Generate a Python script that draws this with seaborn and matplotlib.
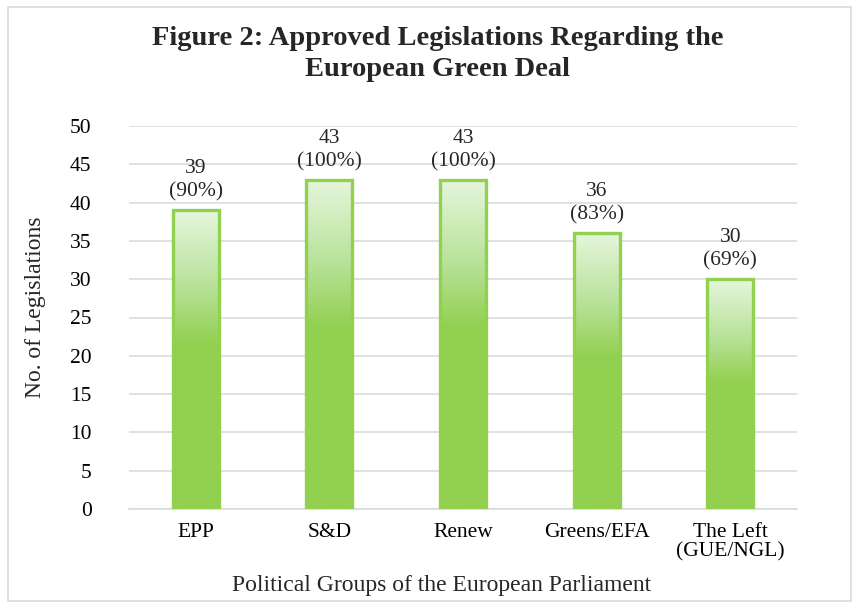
import numpy as np
import pandas as pd
import matplotlib
matplotlib.use("Agg")
import matplotlib.pyplot as plt
import seaborn as sns
from matplotlib.colors import LinearSegmentedColormap
from matplotlib.patches import Rectangle

groups = ["EPP", "S&D", "Renew", "Greens/EFA", "The Left\n(GUE/NGL)"]
approved = [39, 43, 43, 36, 30]
shares = ["90%", "100%", "100%", "83%", "69%"]

sns.set_theme(style="white")
plt.rcParams["font.family"] = ["Liberation Serif", "DejaVu Serif"]

df = pd.DataFrame({"group": groups, "n": approved})

fig = plt.figure(figsize=(8.58, 6.08), dpi=100)
ax = fig.add_axes([129/858, 1-509/608, (797-129)/858, (509-126)/608])

green = "#92D050"
sns.barplot(data=df, x="group", y="n", color=green, width=0.345, ax=ax,
            saturation=1, edgecolor=green, linewidth=2.4, zorder=3)

ax.set_ylim(0, 50)
ax.set_yticks(range(0, 51, 5))
ax.yaxis.grid(True, color="#D9D9D9", linewidth=1.1, zorder=0)
ax.set_axisbelow(True)
for s in ["top", "right", "left"]:
    ax.spines[s].set_visible(False)
ax.spines["bottom"].set_color("#D9D9D9")
ax.spines["bottom"].set_linewidth(1.1)
ax.tick_params(axis="both", length=0, labelsize=15.5, colors="black")
ax.tick_params(axis="y", pad=27)
ax.tick_params(axis="x", pad=10)
for lab in ax.get_xticklabels():
    lab.set_linespacing(1.0)

# gradient fill
t = np.linspace(0, 1, 256)
cmap = LinearSegmentedColormap.from_list(
    "g", [(0, green), (0.55, green), (0.75, "#B8E29A"), (1.0, "#E6F6DC")])
grad = t.reshape(-1, 1)
for p in list(ax.patches):
    x0, y0 = p.get_x(), p.get_y()
    w, h = p.get_width(), p.get_height()
    p.set_facecolor("none")
    im = ax.imshow(grad, cmap=cmap, origin="lower", aspect="auto",
                   extent=[x0, x0 + w, y0, y0 + h], zorder=2.5,
                   vmin=0, vmax=1)
    im.set_clip_path(p)
ax.set_xlim(-0.5, len(groups) - 0.5)
ax.set_ylim(0, 50)

for i, (v, s) in enumerate(zip(approved, shares)):
    ax.annotate(f"{v}\n({s})", (i, v), xytext=(0, 6), textcoords="offset points",
                ha="center", va="bottom", fontsize=15.5, linespacing=1.3)

ax.set_xlabel("Political Groups of the European Parliament", fontsize=17, va="center")
ax.xaxis.set_label_coords((442-129)/668, (509-585)/383)
ax.set_ylabel("No. of Legislations", fontsize=17, va="center")
ax.yaxis.set_label_coords((35-129)/668, (509-307)/383)

fig.text(0.51, 1-54/608, "Figure 2: Approved Legislations Regarding the\nEuropean Green Deal",
         ha="center", va="center", fontsize=20.5, fontweight="bold", linespacing=1.3)

fig.patches.append(Rectangle((8/858, 1-601/608), (851-8)/858, (601-7)/608,
                             transform=fig.transFigure, fill=False,
                             edgecolor="#D9D9D9", linewidth=1.2))

fig.savefig("out.png", dpi=100)
